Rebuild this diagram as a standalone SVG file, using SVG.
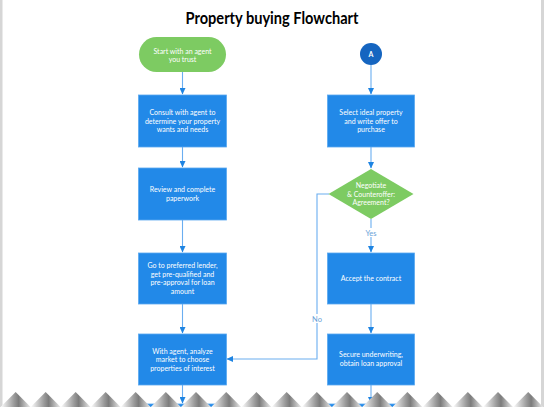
<svg xmlns="http://www.w3.org/2000/svg" width="544" height="407" viewBox="0 0 544 407">
<style>
.box{fill:#2289E8;stroke:#5AA8F0;stroke-width:0.8}
.term{fill:#7DCB62}
.dia{fill:#7DCB62}
.t{font-family:Lato,"Open Sans","Liberation Sans",sans-serif;font-size:7px;fill:#ffffff;text-anchor:middle}
.lbl{font-family:Lato,"Open Sans","Liberation Sans",sans-serif;font-size:7.5px;fill:#6A9FD8;text-anchor:middle}
.c{fill:none;stroke:#6AAEF0;stroke-width:1.1}
.tear{fill:url(#tg)}
</style>
<defs>
<marker id="ah" markerWidth="7" markerHeight="6" refX="6" refY="3" orient="auto" markerUnits="userSpaceOnUse">
<path d="M0,0 L6.5,3 L0,6 Z" fill="#1E84E2"/>
</marker>
<linearGradient id="tg" x1="0" y1="0" x2="1" y2="0">
<stop offset="0" stop-color="#ffffff"/>
<stop offset="0.45" stop-color="#9a9a9a"/>
<stop offset="0.6" stop-color="#7c7c7c"/>
<stop offset="1" stop-color="#ededed"/>
</linearGradient>
</defs>
<rect x="0" y="0" width="544" height="407" fill="#ffffff"/>
<rect x="0" y="0" width="2.5" height="407" fill="#d6d6d6"/>
<rect x="541" y="0" width="3" height="407" fill="#d6d6d6"/>
<text x="272" y="24" font-family="Lato,'Open Sans','Liberation Sans',sans-serif" font-size="17" font-weight="bold" fill="#000000" text-anchor="middle" textLength="173" lengthAdjust="spacingAndGlyphs">Property buying Flowchart</text>

<g id="connectors">
<path class="c" d="M182.5,72 V94" marker-end="url(#ah)"/>
<path class="c" d="M182.5,147 V167" marker-end="url(#ah)"/>
<path class="c" d="M182.5,220 V252" marker-end="url(#ah)"/>
<path class="c" d="M182.5,304 V333" marker-end="url(#ah)"/>
<path class="c" d="M182.5,385 V403" marker-end="url(#ah)"/>
<path class="c" d="M371,65 V94" marker-end="url(#ah)"/>
<path class="c" d="M371,147 V168" marker-end="url(#ah)"/>
<path class="c" d="M371,219 V252" marker-end="url(#ah)"/>
<path class="c" d="M371,304 V333" marker-end="url(#ah)"/>
<path class="c" d="M371,385 V403" marker-end="url(#ah)"/>
<path class="c" d="M329,194 H317 V359 H227" marker-end="url(#ah)"/>
<rect x="362" y="228" width="18" height="9" fill="#ffffff"/>
<text class="lbl" x="371" y="235.5">Yes</text>
<rect x="310" y="314" width="14" height="9" fill="#ffffff"/>
<text class="lbl" x="317" y="321.5">No</text>
</g>

<g id="start">
<rect class="term" x="139" y="37" width="87" height="35" rx="17.5"/>
<text class="t" x="182.5" y="53.5">Start with an agent</text>
<text class="t" x="182.5" y="62">you trust</text>
</g>
<g id="connectorA">
<circle cx="371" cy="54" r="11" fill="#1565C0"/>
<text class="t" x="371" y="56.5" font-weight="bold">A</text>
</g>
<g id="consult">
<rect class="box" x="138.5" y="95" width="88" height="52"/>
<text class="t" x="182.5" y="115">Consult with agent to</text>
<text class="t" x="182.5" y="123.5">determine your property</text>
<text class="t" x="182.5" y="132">wants and needs</text>
</g>
<g id="review">
<rect class="box" x="138.5" y="168" width="88" height="52"/>
<text class="t" x="182.5" y="192.2">Review and complete</text>
<text class="t" x="182.5" y="200.7">paperwork</text>
</g>
<g id="lender">
<rect class="box" x="138.5" y="253" width="88" height="51"/>
<text class="t" x="182.5" y="268.2">Go to preferred lender,</text>
<text class="t" x="182.5" y="276.7">get pre-qualified and</text>
<text class="t" x="182.5" y="285.2">pre-approval for loan</text>
<text class="t" x="182.5" y="293.7">amount</text>
</g>
<g id="analyze">
<rect class="box" x="138.5" y="334" width="88" height="51"/>
<text class="t" x="182.5" y="353.5">With agent, analyze</text>
<text class="t" x="182.5" y="362">market to choose</text>
<text class="t" x="182.5" y="370.5">properties of interest</text>
</g>
<g id="select">
<rect class="box" x="327.5" y="95" width="87" height="52"/>
<text class="t" x="371" y="115">Select ideal property</text>
<text class="t" x="371" y="123.5">and write offer to</text>
<text class="t" x="371" y="132">purchase</text>
</g>
<g id="negotiate">
<polygon class="dia" points="371,169 413.5,194 371,219 328.5,194"/>
<text class="t" x="371" y="188">Negotiate</text>
<text class="t" x="371" y="196.5">&amp; Counteroffer:</text>
<text class="t" x="371" y="205">Agreement?</text>
</g>
<g id="accept">
<rect class="box" x="327.5" y="253" width="87" height="51"/>
<text class="t" x="371" y="281">Accept the contract</text>
</g>
<g id="secure">
<rect class="box" x="327.5" y="334" width="87" height="51"/>
<text class="t" x="371" y="357.2">Secure underwriting,</text>
<text class="t" x="371" y="365.7">obtain loan approval</text>
</g>
<g id="next-left">
<rect class="box" x="138.5" y="404" width="88" height="10"/>
</g>
<g id="next-right">
<rect class="box" x="327.5" y="404" width="87" height="10"/>
</g>

<g id="tear">
<path class="tear" d="M0.6,407 L15.6,392 L30.6,407 Z"/>
<path class="tear" d="M30.6,407 L45.6,392 L60.6,407 Z"/>
<path class="tear" d="M60.6,407 L75.6,392 L90.6,407 Z"/>
<path class="tear" d="M90.6,407 L105.6,392 L120.6,407 Z"/>
<path class="tear" d="M120.6,407 L135.6,392 L150.6,407 Z"/>
<path class="tear" d="M150.8,407 L165.8,392 L180.8,407 Z"/>
<path class="tear" d="M181,407 L196,392 L211,407 Z"/>
<path class="tear" d="M211.2,407 L226.2,392 L241.2,407 Z"/>
<path class="tear" d="M241.4,407 L256.4,392 L271.4,407 Z"/>
<path class="tear" d="M271.6,407 L286.6,392 L301.6,407 Z"/>
<path class="tear" d="M301.8,407 L316.8,392 L331.8,407 Z"/>
<path class="tear" d="M332,407 L347,392 L362,407 Z"/>
<path class="tear" d="M362.2,407 L377.2,392 L392.2,407 Z"/>
<path class="tear" d="M392.4,407 L407.4,392 L422.4,407 Z"/>
<path class="tear" d="M422.6,407 L437.6,392 L452.6,407 Z"/>
<path class="tear" d="M452.8,407 L467.8,392 L482.8,407 Z"/>
<path class="tear" d="M483,407 L498,392 L513,407 Z"/>
<path class="tear" d="M513.2,407 L528.2,392 L543.2,407 Z"/>
</g>
</svg>
